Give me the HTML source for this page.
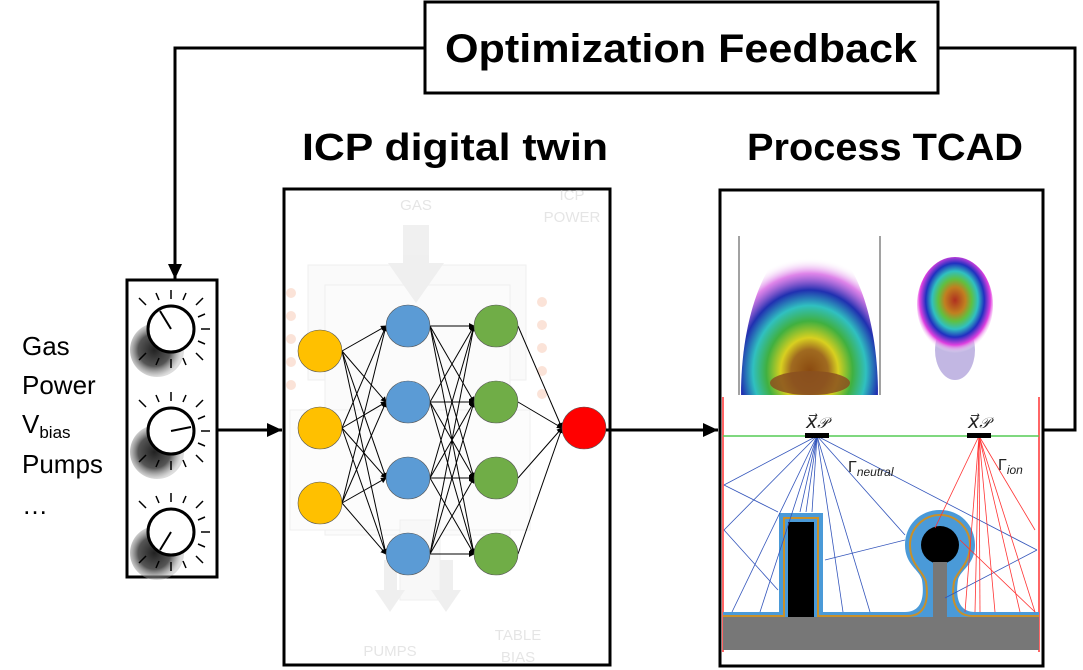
<!DOCTYPE html>
<html><head><meta charset="utf-8"><style>
html,body{margin:0;padding:0;background:#fff;}
svg{display:block;}
text{font-family:"Liberation Sans",sans-serif;}
</style></head><body>
<svg width="1083" height="670" viewBox="0 0 1083 670" xmlns="http://www.w3.org/2000/svg">
<defs>
<marker id="ah" markerWidth="16" markerHeight="16" refX="15" refY="8" orient="auto" markerUnits="userSpaceOnUse"><path d="M0,1 L15,8 L0,15 z" fill="#000"/></marker>
<marker id="sa" markerWidth="6" markerHeight="6" refX="5" refY="3" orient="auto" markerUnits="userSpaceOnUse"><path d="M0,0 L6,3 L0,6 z" fill="#000"/></marker>
<radialGradient id="g1" cx="50%" cy="85%" r="75%">
<stop offset="0" stop-color="#8a4a10"/><stop offset="0.18" stop-color="#a06a20"/><stop offset="0.28" stop-color="#d8d020"/><stop offset="0.42" stop-color="#40b040"/><stop offset="0.55" stop-color="#30c0c0"/><stop offset="0.68" stop-color="#2030b0"/><stop offset="0.82" stop-color="#d050e0" stop-opacity="0.7"/><stop offset="0.95" stop-color="#ffffff" stop-opacity="0"/></radialGradient>
<radialGradient id="g2" cx="50%" cy="45%" r="55%">
<stop offset="0" stop-color="#b03020"/><stop offset="0.25" stop-color="#c08020"/><stop offset="0.4" stop-color="#60c040"/><stop offset="0.55" stop-color="#30c0c0"/><stop offset="0.7" stop-color="#2030c0"/><stop offset="0.85" stop-color="#e040e0"/><stop offset="1" stop-color="#fff" stop-opacity="0"/></radialGradient>
<radialGradient id="ks" cx="45%" cy="50%" r="50%"><stop offset="0" stop-color="#222"/><stop offset="0.6" stop-color="#555"/><stop offset="1" stop-color="#aaa" stop-opacity="0.4"/></radialGradient>
</defs>

<rect x="425" y="2" width="513" height="91" fill="#fff" stroke="#000" stroke-width="3"/>
<text x="681" y="62" font-size="40" font-weight="bold" text-anchor="middle" textLength="472" lengthAdjust="spacingAndGlyphs">Optimization Feedback</text>
<polyline points="425,48 175,48 175,279" fill="none" stroke="#000" stroke-width="3" marker-end="url(#ah)"/>
<polyline points="938,48 1075,48 1075,430 1043,430" fill="none" stroke="#000" stroke-width="3"/>

<text x="455" y="160" font-size="38" font-weight="bold" text-anchor="middle" textLength="306" lengthAdjust="spacingAndGlyphs">ICP digital twin</text>
<text x="885" y="160" font-size="38" font-weight="bold" text-anchor="middle" textLength="276" lengthAdjust="spacingAndGlyphs">Process TCAD</text>

<g font-size="26" fill="#000">
<text x="22" y="355">Gas</text>
<text x="22" y="394">Power</text>
<text x="22" y="433">V<tspan font-size="17" dy="5">bias</tspan></text>
<text x="22" y="473">Pumps</text>
<text x="22" y="514">…</text>
</g>

<rect x="127" y="280" width="90" height="297" fill="#fff" stroke="#000" stroke-width="3"/>
<g>
<g id="knob">
<ellipse cx="157" cy="350" rx="27" ry="27" fill="url(#ks)"/>
<g stroke="#000" stroke-width="1.5">
<line x1="171" y1="290" x2="171" y2="299"/><line x1="139" y1="298" x2="146" y2="305"/><line x1="203" y1="298" x2="196" y2="305"/>
<line x1="210" y1="329" x2="201" y2="329"/><line x1="205" y1="314" x2="198" y2="317"/><line x1="205" y1="344" x2="198" y2="341"/>
<line x1="203" y1="360" x2="196" y2="353"/><line x1="171" y1="368" x2="171" y2="359"/><line x1="156" y1="293" x2="159" y2="300"/><line x1="186" y1="293" x2="183" y2="300"/>
<line x1="139" y1="360" x2="146" y2="353"/><line x1="186" y1="365" x2="183" y2="358"/><line x1="156" y1="365" x2="159" y2="358"/>
</g>
<circle cx="171" cy="329" r="23" fill="#fff" stroke="#000" stroke-width="3"/>
</g>
<line x1="171" y1="329" x2="160" y2="311" stroke="#000" stroke-width="2"/>
<use href="#knob" transform="translate(0,102)"/>
<line x1="171" y1="431" x2="191" y2="427" stroke="#000" stroke-width="2"/>
<use href="#knob" transform="translate(0,203)"/>
<line x1="171" y1="532" x2="160" y2="550" stroke="#000" stroke-width="2"/>
</g>
<line x1="217" y1="430" x2="282" y2="430" stroke="#000" stroke-width="3" marker-end="url(#ah)"/>

<rect x="284" y="189" width="326" height="476" fill="#fff" stroke="#000" stroke-width="3"/>
<g opacity="0.13" fill="#888" stroke="#888">
<rect x="308" y="265" width="218" height="115" fill="#ddd"/>
<rect x="325" y="285" width="185" height="250" fill="#e5e5e5"/>
<rect x="290" y="410" width="240" height="120" fill="#eee"/>
<rect x="400" y="520" width="40" height="80" fill="#ccc"/>
<polygon points="403,225 429,225 429,263 444,263 416,303 388,263 403,263" stroke="none"/>
<polygon points="384,560 397,560 397,590 405,590 390,612 375,590 384,590" stroke="none"/>
<polygon points="440,560 453,560 453,590 461,590 446,612 431,590 440,590" stroke="none"/>
</g>
<g fill="#ccc" opacity="0.5" font-size="15" text-anchor="middle">
<text x="416" y="210">GAS</text><text x="572" y="200">ICP</text><text x="572" y="222">POWER</text>
<text x="390" y="656">PUMPS</text><text x="518" y="640">TABLE</text><text x="518" y="662">BIAS</text>
</g>
<g fill="#fbe3d8"><circle cx="291" cy="293" r="5"/><circle cx="291" cy="316" r="5"/><circle cx="291" cy="339" r="5"/><circle cx="291" cy="362" r="5"/><circle cx="291" cy="385" r="5"/>
<circle cx="542" cy="302" r="5"/><circle cx="542" cy="325" r="5"/><circle cx="542" cy="348" r="5"/><circle cx="542" cy="371" r="5"/><circle cx="542" cy="394" r="5"/></g>
<g stroke="#000" stroke-width="1" marker-end="url(#sa)">
<line x1="342" y1="351" x2="386" y2="326"/><line x1="342" y1="351" x2="386" y2="402"/><line x1="342" y1="351" x2="386" y2="478"/><line x1="342" y1="351" x2="386" y2="554"/>
<line x1="342" y1="428" x2="386" y2="326"/><line x1="342" y1="428" x2="386" y2="402"/><line x1="342" y1="428" x2="386" y2="478"/><line x1="342" y1="428" x2="386" y2="554"/>
<line x1="342" y1="503" x2="386" y2="326"/><line x1="342" y1="503" x2="386" y2="402"/><line x1="342" y1="503" x2="386" y2="478"/><line x1="342" y1="503" x2="386" y2="554"/>
<line x1="430" y1="326" x2="474" y2="326"/><line x1="430" y1="326" x2="474" y2="402"/><line x1="430" y1="326" x2="474" y2="478"/><line x1="430" y1="326" x2="474" y2="554"/>
<line x1="430" y1="402" x2="474" y2="326"/><line x1="430" y1="402" x2="474" y2="402"/><line x1="430" y1="402" x2="474" y2="478"/><line x1="430" y1="402" x2="474" y2="554"/>
<line x1="430" y1="478" x2="474" y2="326"/><line x1="430" y1="478" x2="474" y2="402"/><line x1="430" y1="478" x2="474" y2="478"/><line x1="430" y1="478" x2="474" y2="554"/>
<line x1="430" y1="554" x2="474" y2="326"/><line x1="430" y1="554" x2="474" y2="402"/><line x1="430" y1="554" x2="474" y2="478"/><line x1="430" y1="554" x2="474" y2="554"/>
<line x1="518" y1="326" x2="562" y2="428"/><line x1="518" y1="402" x2="562" y2="428"/><line x1="518" y1="478" x2="562" y2="428"/><line x1="518" y1="554" x2="562" y2="428"/>
</g>
<g stroke="#555" stroke-width="0.6">
<ellipse cx="320" cy="351" rx="22" ry="21" fill="#ffc000"/><ellipse cx="320" cy="428" rx="22" ry="21" fill="#ffc000"/><ellipse cx="320" cy="503" rx="22" ry="21" fill="#ffc000"/>
<ellipse cx="408" cy="326" rx="22" ry="21" fill="#5b9bd5"/><ellipse cx="408" cy="402" rx="22" ry="21" fill="#5b9bd5"/><ellipse cx="408" cy="478" rx="22" ry="21" fill="#5b9bd5"/><ellipse cx="408" cy="554" rx="22" ry="21" fill="#5b9bd5"/>
<ellipse cx="496" cy="326" rx="22" ry="21" fill="#70ad47"/><ellipse cx="496" cy="402" rx="22" ry="21" fill="#70ad47"/><ellipse cx="496" cy="478" rx="22" ry="21" fill="#70ad47"/><ellipse cx="496" cy="554" rx="22" ry="21" fill="#70ad47"/>
<ellipse cx="584" cy="428" rx="22" ry="21" fill="#ff0000"/>
</g>
<line x1="606" y1="430" x2="718" y2="430" stroke="#000" stroke-width="3" marker-end="url(#ah)"/>

<rect x="720" y="190" width="323" height="476" fill="#fff" stroke="#000" stroke-width="3"/>
<g stroke="#444" stroke-width="1">
<line x1="739" y1="236" x2="739" y2="395"/><line x1="880" y1="236" x2="880" y2="395"/>
</g>
<path d="M741,395 C741,310 770,240 810,236 C850,240 878,310 878,395 Z" fill="url(#g1)"/>
<ellipse cx="810" cy="383" rx="40" ry="12" fill="#8a5020" opacity="0.85"/>
<ellipse cx="955" cy="350" rx="20" ry="30" fill="#5030b0" opacity="0.35"/>
<ellipse cx="955" cy="305" rx="38" ry="48" fill="url(#g2)"/>
<line x1="723" y1="397" x2="723" y2="652" stroke="#f33" stroke-width="1.5"/>
<line x1="1039" y1="397" x2="1039" y2="652" stroke="#f33" stroke-width="1.5"/>
<line x1="723" y1="436" x2="1039" y2="436" stroke="#5c5" stroke-width="1.5"/>
<path d="M723,612 L779,612 L779,513 L823,513 L823,612 L905,612 C920,612 925,600 922,580 C920,570 905,565 905,545 C905,525 920,510 940,510 C960,510 975,525 975,545 C975,565 960,570 958,580 C955,600 960,612 975,612 L1039,612 L1039,620 L723,620 Z" fill="#4a9ad8"/>
<path d="M723,616 L784,616 L784,518 L818,518 L818,616 L908,616 C925,616 929,600 926,582 C924,572 910,565 910,545 C910,528 924,515 940,515 C956,515 970,528 970,545 C970,565 956,572 954,582 C951,600 955,616 972,616 L1039,616" fill="none" stroke="#c8902a" stroke-width="2"/>
<rect x="788" y="522" width="26" height="95" fill="#000"/>
<circle cx="940" cy="545" r="19" fill="#000"/>
<rect x="933" y="562" width="14" height="55" fill="#777"/>
<rect x="723" y="617" width="316" height="33" fill="#777"/>
<g stroke="#3355bb" stroke-width="0.8" fill="none">
<line x1="817" y1="436" x2="732" y2="612"/><line x1="817" y1="436" x2="760" y2="612"/><line x1="817" y1="436" x2="800" y2="512"/><line x1="817" y1="436" x2="806" y2="512"/><line x1="817" y1="436" x2="812" y2="512"/>
<line x1="817" y1="436" x2="843" y2="612"/><line x1="817" y1="436" x2="870" y2="612"/><line x1="817" y1="436" x2="905" y2="535"/><line x1="817" y1="436" x2="1037" y2="550"/>
<line x1="817" y1="436" x2="724" y2="485"/><line x1="817" y1="436" x2="724" y2="530"/><line x1="724" y1="485" x2="778" y2="512"/><line x1="724" y1="530" x2="778" y2="590"/>
<line x1="1037" y1="550" x2="945" y2="598"/><line x1="825" y1="560" x2="905" y2="540"/>
</g>
<g stroke="#f33" stroke-width="0.8" fill="none">
<line x1="979" y1="436" x2="935" y2="528"/><line x1="979" y1="436" x2="965" y2="612"/><line x1="979" y1="436" x2="975" y2="612"/><line x1="979" y1="436" x2="980" y2="612"/><line x1="979" y1="436" x2="995" y2="612"/>
<line x1="979" y1="436" x2="1020" y2="612"/><line x1="979" y1="436" x2="1035" y2="612"/><line x1="979" y1="436" x2="1035" y2="530"/><line x1="960" y1="540" x2="1035" y2="612"/>
</g>
<rect x="805" y="433" width="24" height="5" fill="#000"/>
<rect x="967" y="433" width="24" height="5" fill="#000"/>
<g font-family="Liberation Serif,serif" font-style="italic" fill="#222">
<text x="806" y="428" font-size="19">x⃗<tspan font-size="15">𝒫</tspan></text>
<text x="968" y="428" font-size="19">x⃗<tspan font-size="15">𝒫</tspan></text>
<text x="848" y="472" font-size="16" font-style="normal">Γ<tspan font-size="12" font-style="italic" dy="4">neutral</tspan></text>
<text x="998" y="470" font-size="16" font-style="normal">Γ<tspan font-size="12" font-style="italic" dy="4">ion</tspan></text>
</g>
</svg>
</body></html>
